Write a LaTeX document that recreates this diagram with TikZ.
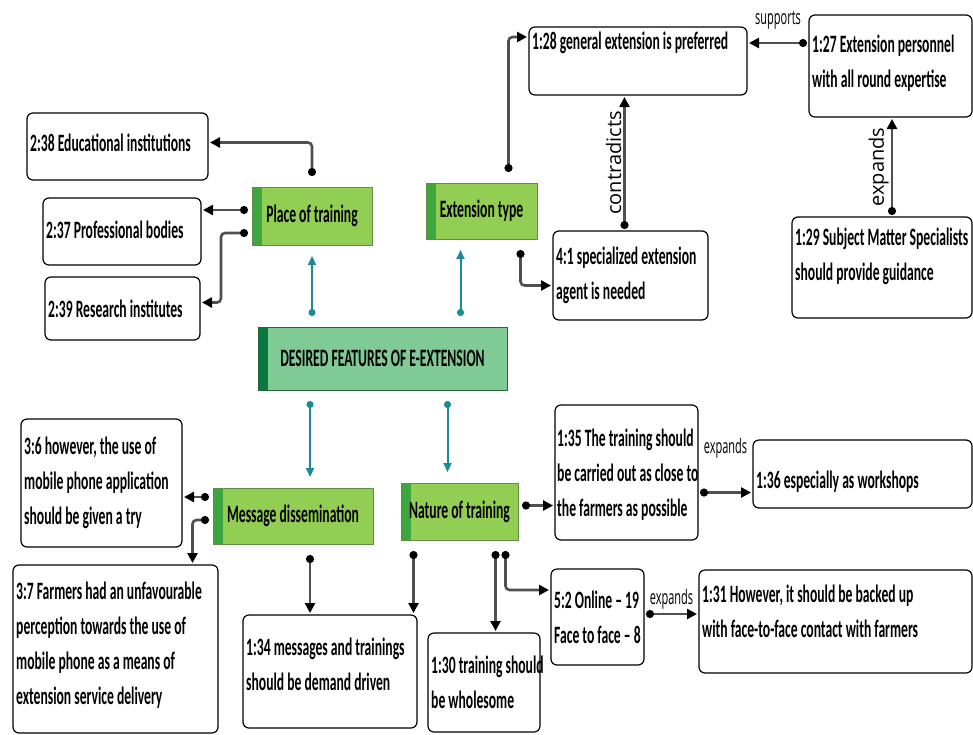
\documentclass[tikz,border=0pt]{standalone}
\usepackage{fontspec}
\setmainfont{Carlito}[FakeStretch=0.545]
\newfontfamily\lblfont{Open Sans}[FakeStretch=0.55]
\newfontfamily\rotfont{Open Sans}
\usepackage{tikz}
\usetikzlibrary{arrows.meta}
\definecolor{topicfill}{RGB}{146,206,84}
\definecolor{topicstrip}{RGB}{62,166,62}
\definecolor{topicline}{RGB}{96,140,70}
\definecolor{rootfill}{RGB}{128,202,150}
\definecolor{rootstrip}{RGB}{10,120,62}
\definecolor{rootline}{RGB}{40,100,60}
\definecolor{linkgray}{RGB}{80,80,80}
\definecolor{tealc}{RGB}{24,138,152}
\newcommand{\notefont}{\fontsize{25}{35}\selectfont\bfseries}
\tikzset{
  note/.style={draw=black, line width=1.2pt, rounded corners=6pt, fill=white,
    inner sep=0pt, outer sep=2pt},
  quote/.style={anchor=west, align=left, inner sep=1pt, xshift=4pt, font=\notefont},
  topic/.style={draw=topicline, line width=1pt, fill=topicfill, outer xsep=4pt,
    outer ysep=11pt, font=\notefont,
    path picture={\fill[topicstrip] (path picture bounding box.north west)
      rectangle ([xshift=10pt]path picture bounding box.south west);}},
  root/.style={topic, draw=rootline, fill=rootfill,
    path picture={\fill[rootstrip] (path picture bounding box.north west)
      rectangle ([xshift=10pt]path picture bounding box.south west);}},
  link/.style={draw=linkgray, line width=2.6pt, rounded corners=4pt,
    {Circle[length=8pt,color=black]}-{Triangle[length=10pt,width=10pt,color=black]}},
  tlink/.style={draw=tealc, line width=2pt,
    {Circle[length=7pt]}-{Triangle[length=9pt,width=8pt]}},
  rel/.style={font=\lblfont\fontsize{20}{24}\selectfont, inner sep=1pt},
  vrel/.style={font=\rotfont\fontsize{20}{24}\selectfont, inner sep=2pt, rotate=90}
}
\begin{document}
\begin{tikzpicture}[x=1pt,y=-1pt]
  \useasboundingbox (0,0) rectangle (973,734);

  % main topic and categories
  \node[root, minimum width=249pt, minimum height=63pt] (desired) at (382.5,358.5) {DESIRED FEATURES OF E-EXTENSION};
  \node[topic, minimum width=120pt, minimum height=58pt] (place) at (312,216) {Place of training};
  \node[topic, minimum width=111pt, minimum height=56pt] (ext) at (481.5,211) {Extension type};
  \node[topic, minimum width=160pt, minimum height=56pt] (msg) at (293,516) {Message dissemination};
  \node[topic, minimum width=117pt, minimum height=57pt] (nat) at (459.5,511.5) {Nature of training};

  % quotations
  \node[note, minimum width=181pt, minimum height=67pt,
    label={[quote, yshift=4pt]west:{2:38 Educational institutions}}] (edu) at (117.5,146.5) {};
  \node[note, minimum width=158pt, minimum height=67pt,
    label={[quote, yshift=2pt]west:{2:37 Professional bodies}}] (prof) at (122,231.5) {};
  \node[note, minimum width=155pt, minimum height=63pt,
    label={[quote]west:{2:39 Research institutes}}] (res) at (122.5,308.5) {};
  \node[note, minimum width=218pt, minimum height=68pt,
    label={[quote, yshift=18pt]west:{1:28 general extension is preferred}}] (gen) at (638,61) {};
  \node[note, minimum width=163pt, minimum height=102pt,
    label={[quote, yshift=3pt]west:{1:27 Extension personnel\\with all round expertise}}] (pers) at (890.5,66) {};
  \node[note, minimum width=155pt, minimum height=89pt,
    label={[quote]west:{4:1 specialized extension\\agent is needed}}] (spec) at (630.5,275.5) {};
  \node[note, minimum width=180pt, minimum height=101pt,
    label={[quote, yshift=11pt]west:{1:29 Subject Matter Specialists\\should provide guidance}}] (guid) at (882,267.5) {};
  \node[note, minimum width=161pt, minimum height=128pt,
    label={[quote]west:{3:6 however, the use of\\mobile phone application\\should be given a try}}] (mob) at (101.5,483) {};
  \node[note, minimum width=205pt, minimum height=168pt,
    label={[quote, yshift=4pt]west:{3:7 Farmers had an unfavourable\\perception towards the use of\\mobile phone as a means of\\extension service delivery}}] (farm) at (115.5,649) {};
  \node[note, minimum width=174pt, minimum height=113pt,
    label={[quote, yshift=7pt]west:{1:34 messages and trainings\\should be demand driven}}] (dem) at (330,671.5) {};
  \node[note, minimum width=143pt, minimum height=135pt,
    label={[quote, xshift=-1pt, yshift=-2pt]west:{1:35 The training should\\be carried out as close to\\the farmers as possible}}] (close) at (626.5,472.5) {};
  \node[note, minimum width=219pt, minimum height=68pt,
    label={[quote, yshift=-8pt]west:{1:36 especially as workshops}}] (work) at (862.5,474) {};
  \node[note, minimum width=112pt, minimum height=99pt,
    label={[quote]west:{1:30 training should\\be wholesome}}] (whole) at (484,682.5) {};
  \node[note, minimum width=93pt, minimum height=96pt,
    label={[quote]west:{5:2 Online – 19\\Face to face – 8}}] (onl) at (597.5,617) {};
  \node[note, minimum width=273pt, minimum height=103pt,
    label={[quote, yshift=10pt]west:{1:31 However, it should be backed up\\with face-to-face contact with farmers}}] (back) at (835.5,621.5) {};

  % root to categories
  \draw[tlink] (place.south |- desired.north) -- (place.south);
  \draw[tlink] ([xshift=-21pt]ext.south |- desired.north) -- ([xshift=-21pt]ext.south);
  \draw[tlink] ([xshift=17pt]msg.north |- desired.south) -- ([xshift=17pt]msg.north);
  \draw[tlink] ([xshift=-12pt]nat.north |- desired.south) -- ([xshift=-12pt]nat.north);

  % place of training
  \draw[link] (place.north) |- ([yshift=4pt]edu.east);
  \draw[link] ([yshift=6pt]place.west) -- ([yshift=6pt]place.west -| prof.east);
  \draw[link] ([yshift=-17pt]place.west) -- ++(-27,0) |- ([yshift=6pt]res.east);

  % extension type
  \draw[link] ([xshift=27pt]ext.north) |- ([yshift=24pt]gen.west);
  \draw[link] ([xshift=39pt]ext.south) |- ([yshift=-10pt]spec.west);
  \draw[link] ([xshift=-6pt]spec.north) -- ([xshift=-6pt]spec.north |- gen.south)
    node[vrel, midway, above] {contradicts};
  \draw[link] ([yshift=23pt]pers.west) -- ([yshift=23pt]pers.west -| gen.east)
    node[rel, midway, above=11pt] {supports};
  \draw[link] ([xshift=10pt]guid.north) -- ([xshift=10pt]guid.north |- pers.south)
    node[vrel, midway, above] {expands};

  % message dissemination
  \draw[link] ([yshift=19pt]msg.west) -- ([yshift=19pt]msg.west -| mob.east);
  \draw[link] ([yshift=-4pt]msg.west) -| ([xshift=77pt]farm.north);
  \draw[link] ([xshift=17pt]msg.south) -- ([xshift=17pt]msg.south |- dem.north);

  % nature of training
  \draw[link] ([xshift=-46pt]nat.south) -- ([xshift=-46pt]nat.south |- dem.north);
  \draw[link] ([yshift=6pt]nat.east) -- ([yshift=6pt]nat.east -| close.west);
  \draw[link] ([yshift=-20pt]close.east) -- ([yshift=-20pt]close.east -| work.west)
    node[rel, midway, above=32pt] {expands};
  \draw[link] ([xshift=36pt]nat.south) -- ([xshift=36pt]nat.south |- whole.north);
  \draw[link] ([xshift=46pt]nat.south) |- ([yshift=27pt]onl.west);
  \draw[link] ([yshift=3pt]onl.east) -- ([yshift=3pt]onl.east -| back.west)
    node[rel, midway, above=2pt] {expands};
\end{tikzpicture}
\end{document}
